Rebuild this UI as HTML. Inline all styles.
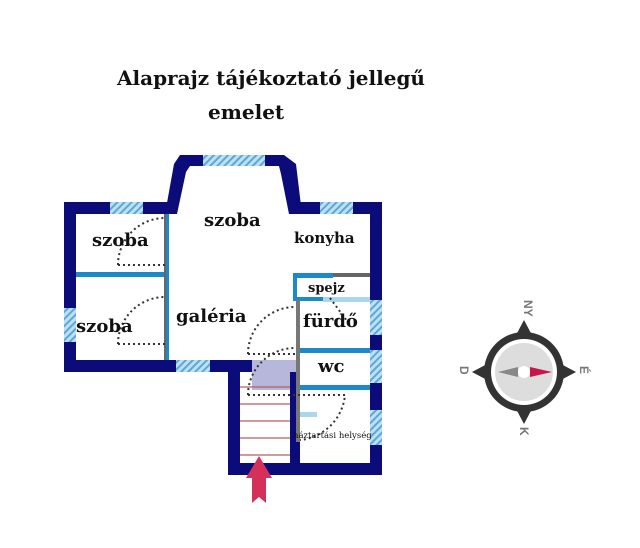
<!DOCTYPE html>
<html><head><meta charset="utf-8"><style>
html,body{margin:0;padding:0;background:#fff;}
svg{display:block;}
text{font-family:"DejaVu Serif","Liberation Serif",serif;font-weight:bold;fill:#111;}
</style></head><body>
<svg width="640" height="548" viewBox="0 0 640 548" xmlns="http://www.w3.org/2000/svg">
<defs>
<pattern id="h" width="5" height="5" patternUnits="userSpaceOnUse" patternTransform="rotate(45)">
<rect width="5" height="5" fill="#bfe0f3"/><rect width="2" height="5" fill="#5aa8d8"/>
</pattern>
</defs>
<text x="117" y="85" font-size="20">Alaprajz tájékoztató jellegű</text>
<text x="208" y="119" font-size="20">emelet</text>

<rect x="252" y="360" width="45" height="30" fill="#b7b7dc"/>
<g stroke="#b06060" stroke-width="1.2">
<line x1="240" y1="387" x2="290" y2="387"/><line x1="240" y1="404" x2="290" y2="404"/>
<line x1="240" y1="421" x2="290" y2="421"/><line x1="240" y1="438" x2="290" y2="438"/>
<line x1="240" y1="455" x2="290" y2="455"/>
</g>

<g fill="#0b0b7a">
<rect x="64" y="202" width="108" height="12"/>
<rect x="290" y="202" width="92" height="12"/>
<rect x="64" y="202" width="12" height="170"/>
<rect x="370" y="202" width="12" height="273"/>
<rect x="64" y="360" width="188" height="12"/>
<rect x="228" y="360" width="12" height="115"/>
<rect x="228" y="463" width="154" height="12"/>
<rect x="290" y="372" width="10" height="95"/>
<polygon points="165,214 177,214 186,172 190,166 290,166 284,155 180,155 174,164"/>
<polygon points="284,155 290,166 292,172 300,214 289,214 281,174 279,166 290,166"/>
</g>
<polygon points="279,166 284,155 296,164 302,214 290,214 283,172" fill="#0b0b7a"/>

<g fill="url(#h)">
<rect x="110" y="202" width="33" height="12"/>
<rect x="203" y="155" width="62" height="11"/>
<rect x="320" y="202" width="33" height="12"/>
<rect x="64" y="308" width="12" height="34"/>
<rect x="176" y="360" width="34" height="12"/>
<rect x="370" y="300" width="12" height="35"/>
<rect x="370" y="350" width="12" height="33"/>
<rect x="370" y="410" width="12" height="35"/>
</g>

<g fill="#1a8ac8">
<rect x="76" y="272" width="90" height="5"/>
<rect x="164" y="214" width="5" height="146"/>
<rect x="293" y="273" width="40" height="5"/>
<rect x="293" y="273" width="4" height="28"/>
<rect x="293" y="297" width="30" height="4"/>
<rect x="297" y="348" width="73" height="5"/>
<rect x="297" y="385" width="73" height="5"/>
</g>
<rect x="333" y="273" width="37" height="4" fill="#666"/>
<rect x="323" y="297" width="47" height="5" fill="#a8d8ea"/>
<rect x="296" y="300" width="4" height="142" fill="#777"/>
<rect x="164" y="214" width="2" height="146" fill="#666"/>
<rect x="300" y="412" width="17" height="5" fill="#a8d8ea"/>

<g fill="none" stroke="#333" stroke-width="2" stroke-dasharray="2,3">
<path d="M118,265 A47,47 0 0 1 165,218 M118,265 H165"/>
<path d="M118,344 A47,47 0 0 1 165,297 M118,344 H165"/>
<path d="M248,354 A47,47 0 0 1 295,307 M248,354 H295"/>
<path d="M248,395 A47,47 0 0 1 295,348"/>
<path d="M248,395 H345 A50,50 0 0 1 300,440"/>
<path d="M330,298 L350,325"/>
</g>

<text x="92" y="246" font-size="18">szoba</text>
<text x="204" y="226" font-size="18">szoba</text>
<text x="294" y="243" font-size="15">konyha</text>
<text x="76" y="332" font-size="18">szoba</text>
<text x="176" y="322" font-size="18">galéria</text>
<text x="308" y="292" font-size="13">spejz</text>
<text x="303" y="327" font-size="18">fürdő</text>
<text x="318" y="372" font-size="18">wc</text>
<text x="293" y="438" font-size="8.5" style="font-weight:normal">háztartási helység</text>

<polygon points="259,456 272,478 266,478 266,503 259,497 252,503 252,478 246,478" fill="#d4305a"/>

<g transform="translate(524,372)">
<polygon points="0,-52 9,-35 -9,-35" fill="#333"/>
<polygon points="0,52 9,35 -9,35" fill="#333"/>
<polygon points="-52,0 -35,9 -35,-9" fill="#333"/>
<polygon points="52,0 35,9 35,-9" fill="#333"/>
<circle r="40" fill="#333"/>
<circle r="33" fill="#fff"/>
<circle r="29" fill="#ddd"/>
<polygon points="-26,0 -6,-5 -6,5" fill="#888"/>
<polygon points="28,0 6,-5 6,5" fill="#c8154a"/>
<circle r="6" fill="#fff"/>
</g>
<g font-size="12">
<text x="519" y="305" transform="rotate(90 524 305)" style="fill:#777;font-family:'Liberation Sans',sans-serif">NY</text>
<text x="578" y="376" transform="rotate(90 584 372)" style="fill:#777;font-family:'Liberation Sans',sans-serif">É</text>
<text x="458" y="376" transform="rotate(90 464 372)" style="fill:#777;font-family:'Liberation Sans',sans-serif">D</text>
<text x="519" y="436" transform="rotate(90 524 432)" style="fill:#777;font-family:'Liberation Sans',sans-serif">K</text>
</g>
</svg>
</body></html>
